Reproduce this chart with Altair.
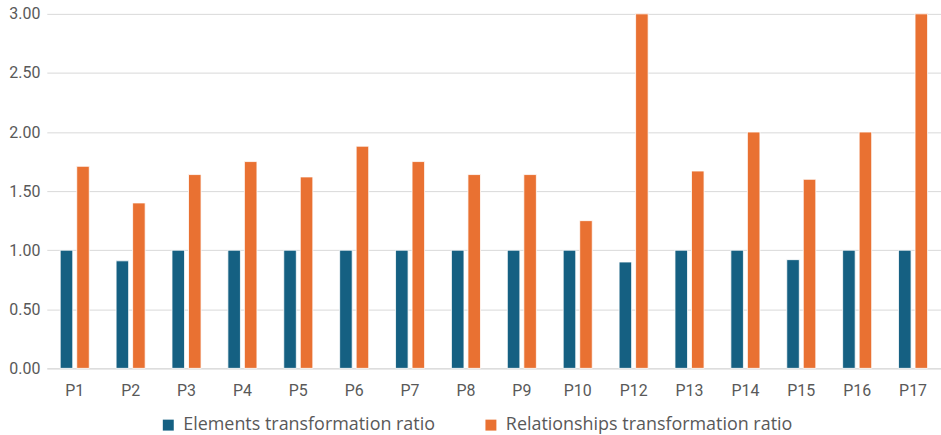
import altair as alt
import pandas as pd

# Transformation ratios per project
projects = ["P1", "P2", "P3", "P4", "P5", "P6", "P7", "P8",
            "P9", "P10", "P12", "P13", "P14", "P15", "P16", "P17"]
elements_ratio = [1.00, 0.91, 1.00, 1.00, 1.00, 1.00, 1.00, 1.00,
                  1.00, 1.00, 0.90, 1.00, 1.00, 0.92, 1.00, 1.00]
relationships_ratio = [1.71, 1.40, 1.64, 1.75, 1.62, 1.88, 1.75, 1.64,
                       1.64, 1.25, 3.00, 1.67, 2.00, 1.60, 2.00, 3.00]
series_names = ["Elements transformation ratio", "Relationships transformation ratio"]
series_colors = ["#156082", "#E97132"]

rows = []
for p, e, r in zip(projects, elements_ratio, relationships_ratio):
    rows.append({"project": p, "series": series_names[0], "value": e})
    rows.append({"project": p, "series": series_names[1], "value": r})
df = pd.DataFrame(rows)

font = "Roboto"
legend_font = "Open Sans"
text_color = "#595959"

chart = alt.Chart(df).mark_bar(stroke="white", strokeWidth=0.8).encode(
    x=alt.X("project:N", sort=projects,
            scale=alt.Scale(paddingInner=0.48, paddingOuter=0.24),
            axis=alt.Axis(title=None, labelAngle=0, ticks=False, domain=True,
                          domainColor="#d9d9d9", labelPadding=14,
                          labelFontSize=16, labelColor=text_color, labelFont=font)),
    xOffset=alt.XOffset("series:N", sort=series_names,
                        scale=alt.Scale(paddingInner=0.24, paddingOuter=0)),
    y=alt.Y("value:Q",
            scale=alt.Scale(domain=[0, 3], nice=False),
            axis=alt.Axis(title=None, values=[0, 0.5, 1, 1.5, 2, 2.5, 3], format=".2f",
                          domain=False, ticks=False, labelPadding=7,
                          gridColor="#d9d9d9", gridWidth=1,
                          labelFontSize=16, labelColor=text_color, labelFont=font)),
    color=alt.Color("series:N", sort=series_names,
                    scale=alt.Scale(domain=series_names, range=series_colors),
                    legend=alt.Legend(title=None, orient="none", direction="horizontal",
                                      legendX=113, legendY=404, symbolType="square",
                                      symbolSize=121, symbolStrokeWidth=0,
                                      labelFontSize=18, labelColor=text_color,
                                      labelFont=legend_font, labelLimit=600,
                                      columnPadding=46, labelOffset=6)),
).properties(
    width=898,
    height=356,
    padding={"left": 47, "top": 13, "right": 0, "bottom": 66},
    autosize=alt.AutoSizeParams(type="none"),
).configure_view(stroke=None)

chart.save("out.html", embed_options={"renderer": "svg", "actions": False})
